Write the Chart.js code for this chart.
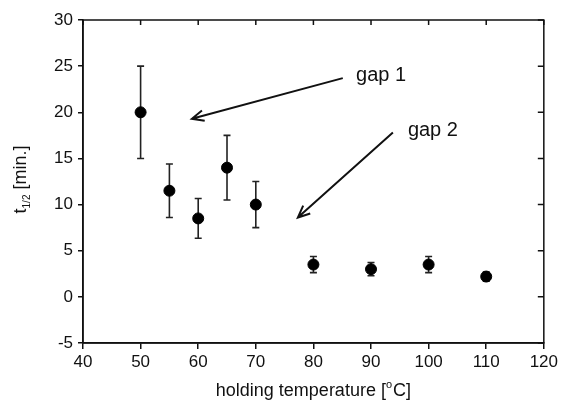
<!DOCTYPE html>
<html>
<head>
<meta charset="utf-8">
<script src="https://cdn.jsdelivr.net/npm/chart.js@4"></script>
<style>
  html, body { margin: 0; padding: 0; background: #fff; }
  #wrap { width: 561px; height: 404px; }
</style>
</head>
<body>
<div id="wrap"><canvas id="myChart" width="561" height="404"></canvas></div>
<script>
// half-life vs holding temperature
const temps = [50, 55, 60, 65, 70, 80, 90, 100, 110];
const halfLife = [20, 11.5, 8.5, 14, 10, 3.5, 3, 3.5, 2.2];
const errs = [5, 2.9, 2.15, 3.5, 2.5, 0.87, 0.72, 0.87, 0.5];

const xTicks = [40, 50, 60, 70, 80, 90, 100, 110, 120];
const yTicks = [-5, 0, 5, 10, 15, 20, 25, 30];

// arrows (data units): tail -> head, label next to the tail
const gapLabels = ['gap 1', 'gap 2'];
const arrowTail = [[85.1, 23.7], [93.8, 17.8]];
const arrowHead = [[58.9, 19.3], [77.3, 8.6]];
const labelAt = [[87.4, 24.0], [96.4, 18.0]];

const ink = '#111';
const fam = '"Liberation Sans", Arial, sans-serif';

const extras = {
  id: 'extras',
  beforeDatasetsDraw(chart) {
    const ctx = chart.ctx;
    const x = chart.scales.x, y = chart.scales.y;
    ctx.save();
    ctx.strokeStyle = '#222';
    ctx.lineWidth = 1.6;
    temps.forEach((t, i) => {
      const px = x.getPixelForValue(t);
      const top = y.getPixelForValue(halfLife[i] + errs[i]);
      const bot = y.getPixelForValue(halfLife[i] - errs[i]);
      ctx.beginPath();
      ctx.moveTo(px, top); ctx.lineTo(px, bot);
      ctx.moveTo(px - 3.5, top); ctx.lineTo(px + 3.5, top);
      ctx.moveTo(px - 3.5, bot); ctx.lineTo(px + 3.5, bot);
      ctx.stroke();
    });
    ctx.restore();
  },
  afterDraw(chart) {
    const ctx = chart.ctx;
    const a = chart.chartArea;
    const x = chart.scales.x, y = chart.scales.y;
    ctx.save();
    // frame
    ctx.strokeStyle = ink;
    ctx.lineWidth = 1.5;
    ctx.strokeRect(a.left, a.top, a.right - a.left, a.bottom - a.top);
    // inward ticks on top and right
    ctx.beginPath();
    xTicks.forEach(v => {
      const px = x.getPixelForValue(v);
      ctx.moveTo(px, a.top); ctx.lineTo(px, a.top + 5);
    });
    yTicks.forEach(v => {
      const py = y.getPixelForValue(v);
      ctx.moveTo(a.right, py); ctx.lineTo(a.right - 6, py);
    });
    ctx.stroke();

    // arrows
    ctx.lineWidth = 2;
    ctx.strokeStyle = ink;
    arrowTail.forEach((tail, i) => {
      const x0 = x.getPixelForValue(tail[0]), y0 = y.getPixelForValue(tail[1]);
      const x1 = x.getPixelForValue(arrowHead[i][0]), y1 = y.getPixelForValue(arrowHead[i][1]);
      const ang = Math.atan2(y1 - y0, x1 - x0);
      const len = 13, spread = 0.42;
      ctx.beginPath();
      ctx.moveTo(x0, y0); ctx.lineTo(x1, y1);
      ctx.moveTo(x1 - len * Math.cos(ang - spread), y1 - len * Math.sin(ang - spread));
      ctx.lineTo(x1, y1);
      ctx.lineTo(x1 - len * Math.cos(ang + spread), y1 - len * Math.sin(ang + spread));
      ctx.stroke();
    });
    ctx.fillStyle = ink;
    ctx.font = '20px ' + fam;
    ctx.textAlign = 'left';
    ctx.textBaseline = 'middle';
    gapLabels.forEach((txt, i) => {
      ctx.fillText(txt, x.getPixelForValue(labelAt[i][0]), y.getPixelForValue(labelAt[i][1]));
    });

    // x axis title with superscript degree
    const cx = (a.left + a.right) / 2;
    const big = '18px ' + fam;
    const small = '11px ' + fam;
    ctx.textBaseline = 'alphabetic';
    ctx.font = big;
    const p1 = 'holding temperature [', p3 = 'C]';
    const w1 = ctx.measureText(p1).width, w3 = ctx.measureText(p3).width;
    ctx.font = small;
    const w2 = ctx.measureText('o').width + 1;
    let sx = cx - (w1 + w2 + w3) / 2;
    const by = 396;
    ctx.font = big; ctx.fillText(p1, sx, by); sx += w1;
    ctx.font = small; ctx.fillText('o', sx, by - 8); sx += w2;
    ctx.font = big; ctx.fillText(p3, sx, by);

    // y axis title with subscript 1/2
    ctx.translate(26, (a.top + a.bottom) / 2 - 2);
    ctx.rotate(-Math.PI / 2);
    ctx.font = big;
    const q1 = 't', q3 = ' [min.]';
    const u1 = ctx.measureText(q1).width, u3 = ctx.measureText(q3).width;
    ctx.font = '10px ' + fam;
    const u2 = ctx.measureText('1/2').width;
    let ty = -(u1 + u2 + u3) / 2;
    ctx.font = big; ctx.fillText(q1, ty, 0); ty += u1;
    ctx.font = '10px ' + fam; ctx.fillText('1/2', ty, 4); ty += u2;
    ctx.font = big; ctx.fillText(q3, ty, 0);
    ctx.restore();
  }
};

const ctx = document.getElementById('myChart').getContext('2d');
const chart = new Chart(ctx, {
  type: 'scatter',
  data: {
    datasets: [{
      data: temps.map((t, i) => ({ x: t, y: halfLife[i] })),
      backgroundColor: '#000',
      borderColor: '#000',
      pointRadius: 5.5,
      pointHoverRadius: 5.5
    }]
  },
  options: {
    responsive: false,
    animation: false,
    layout: { padding: { top: 20, right: 17, left: 0, bottom: 0 } },
    plugins: { legend: { display: false }, tooltip: { enabled: false } },
    scales: {
      x: {
        type: 'linear', min: 40, max: 120,
        afterFit: s => { s.height = 61; },
        afterBuildTicks: s => { s.ticks = xTicks.map(v => ({ value: v })); },
        border: { display: true, color: ink, width: 1.5 },
        grid: { drawOnChartArea: false, tickLength: 6, color: ink, lineWidth: 1.5 },
        ticks: { color: ink, padding: 3, maxRotation: 0, font: { size: 17, family: fam } }
      },
      y: {
        type: 'linear', min: -5, max: 30,
        afterFit: s => { s.width = 83; },
        afterBuildTicks: s => { s.ticks = yTicks.map(v => ({ value: v })); },
        border: { display: true, color: ink, width: 1.5 },
        grid: { drawOnChartArea: false, tickLength: 5, color: ink, lineWidth: 1.5 },
        ticks: { color: ink, padding: 5, font: { size: 17, family: fam } }
      }
    }
  },
  plugins: [extras]
});
</script>
</body>
</html>
